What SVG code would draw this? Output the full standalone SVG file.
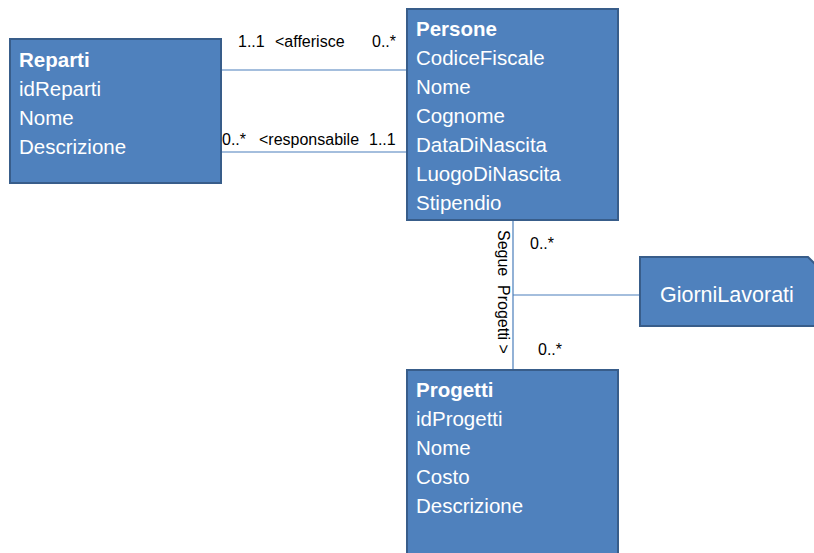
<svg xmlns="http://www.w3.org/2000/svg" width="814" height="553" viewBox="0 0 814 553">
<style>
.box{fill:#4f81bd;stroke:#385d8a;stroke-width:2}
.t{font-family:"Liberation Sans",Arial,sans-serif;font-size:20.5px;fill:#ffffff}
.b{font-weight:bold}
.lbl{font-family:"Liberation Sans",Arial,sans-serif;font-size:16px;fill:#000000}
.ln{stroke:#4a7ebb;stroke-width:1.2;fill:none}
</style>
<rect width="814" height="553" fill="#ffffff"/>
<g id="connectors">
<line class="ln" x1="221" y1="70" x2="407" y2="70"/>
<line class="ln" x1="221" y1="152" x2="407" y2="152"/>
<line class="ln" x1="513" y1="221" x2="513" y2="370"/>
<line class="ln" x1="513" y1="295" x2="640" y2="295"/>
<text class="lbl" x="238" y="47">1..1</text>
<text class="lbl" x="275" y="47">&lt;afferisce</text>
<text class="lbl" x="372" y="47">0..*</text>
<text class="lbl" x="222" y="145">0..*</text>
<text class="lbl" x="259" y="145">&lt;responsabile</text>
<text class="lbl" x="369" y="145">1..1</text>
<text class="lbl" x="530" y="249">0..*</text>
<text class="lbl" x="538" y="355">0..*</text>
<text class="lbl" transform="translate(498,230) rotate(90)" x="0" y="0">Segue</text>
<text class="lbl" transform="translate(498,285) rotate(90)" x="0" y="0">Progetti &gt;</text>
</g>
<g id="reparti">
<rect class="box" x="10" y="39" width="211" height="144"/>
<text class="t b" x="19" y="67">Reparti</text>
<text class="t" x="19" y="96">idReparti</text>
<text class="t" x="19" y="125">Nome</text>
<text class="t" x="19" y="154">Descrizione</text>
</g>
<g id="persone">
<rect class="box" x="407" y="9" width="211" height="211"/>
<text class="t b" x="416" y="36">Persone</text>
<text class="t" x="416" y="65">CodiceFiscale</text>
<text class="t" x="416" y="94">Nome</text>
<text class="t" x="416" y="123">Cognome</text>
<text class="t" x="416" y="152">DataDiNascita</text>
<text class="t" x="416" y="181">LuogoDiNascita</text>
<text class="t" x="416" y="210">Stipendio</text>
</g>
<g id="progetti">
<rect class="box" x="407" y="370" width="211" height="200"/>
<text class="t b" x="416" y="397">Progetti</text>
<text class="t" x="416" y="426">idProgetti</text>
<text class="t" x="416" y="455">Nome</text>
<text class="t" x="416" y="484">Costo</text>
<text class="t" x="416" y="513">Descrizione</text>
</g>
<g id="giornilavorati">
<polygon class="box" points="640,257 808,257 822,271 822,326 640,326"/>
<text class="t" x="660" y="302" style="font-size:21.5px">GiorniLavorati</text>
</g>
</svg>
